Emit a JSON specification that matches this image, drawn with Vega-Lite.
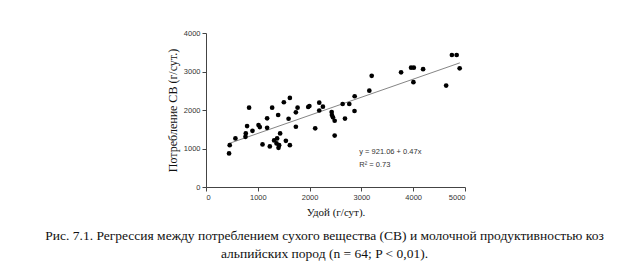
{
  "$schema": "https://vega.github.io/schema/vega-lite/v6.json",
  "width": 259,
  "height": 154,
  "autosize": {"type": "none"},
  "padding": {"left": 206, "top": 33, "right": 175, "bottom": 82},
  "background": "white",
  "title": {
    "text": ["Рис. 7.1. Регрессия между потреблением сухого вещества (СВ) и молочной продуктивностью коз", "альпийских пород (n = 64; P < 0,01)."],
    "orient": "bottom",
    "anchor": "middle",
    "font": "Liberation Serif",
    "fontSize": 13.5,
    "fontWeight": "normal",
    "color": "#111",
    "lineHeight": 18,
    "offset": 11,
    "dx": -11
  },
  "config": {
    "view": {"stroke": null},
    "axis": {
      "grid": false,
      "domainColor": "#444",
      "tickColor": "#444",
      "tickSize": 4,
      "labelFont": "Liberation Sans",
      "labelFontSize": 7.5,
      "labelColor": "#333",
      "format": "d",
      "titleFont": "Liberation Serif",
      "titleFontWeight": "normal",
      "titleColor": "#111"
    }
  },
  "encoding": {
    "x": {
      "field": "x", "type": "quantitative",
      "scale": {"domain": [0, 5000], "nice": false, "zero": false},
      "axis": {"values": [0, 1000, 2000, 3000, 4000, 5000], "format": "d", "title": "Удой (г/сут).", "titleFontSize": 11, "titlePadding": 6, "labelPadding": 2}
    },
    "y": {
      "field": "y", "type": "quantitative",
      "scale": {"domain": [0, 4000], "nice": false, "zero": false},
      "axis": {"values": [0, 1000, 2000, 3000, 4000], "format": "d", "title": "Потребление СВ (г/сут.)", "titleFontSize": 12, "titlePadding": 4, "labelPadding": 2}
    }
  },
  "layer": [
    {
      "data": {"values": [
        {"x": 450, "y": 1132.6},
        {"x": 4900, "y": 3224.1}
      ]},
      "mark": {"type": "line", "stroke": "#666", "strokeWidth": 0.8}
    },
    {
      "data": {"values": [
        {"x": 445, "y": 871}, {"x": 458, "y": 1087}, {"x": 568, "y": 1262}, {"x": 762, "y": 1304},
        {"x": 768, "y": 1392}, {"x": 793, "y": 1583}, {"x": 832, "y": 2060}, {"x": 897, "y": 1460},
        {"x": 1014, "y": 1609}, {"x": 1039, "y": 1557}, {"x": 1091, "y": 1106}, {"x": 1180, "y": 1784},
        {"x": 1180, "y": 1538}, {"x": 1232, "y": 1053}, {"x": 1277, "y": 2060}, {"x": 1315, "y": 1210},
        {"x": 1373, "y": 1262}, {"x": 1362, "y": 1132}, {"x": 1412, "y": 1087}, {"x": 1400, "y": 1017},
        {"x": 1393, "y": 1870}, {"x": 1431, "y": 1392}, {"x": 1503, "y": 2201}, {"x": 1542, "y": 1199},
        {"x": 1594, "y": 1773}, {"x": 1619, "y": 2313}, {"x": 1619, "y": 1087}, {"x": 1735, "y": 1940},
        {"x": 1735, "y": 1565}, {"x": 1768, "y": 2060}, {"x": 1973, "y": 2078}, {"x": 1996, "y": 2104},
        {"x": 2108, "y": 1523}, {"x": 2186, "y": 2190}, {"x": 2186, "y": 1987}, {"x": 2257, "y": 2086},
        {"x": 2426, "y": 1948}, {"x": 2431, "y": 1870}, {"x": 2451, "y": 1810}, {"x": 2484, "y": 1721},
        {"x": 2484, "y": 1335}, {"x": 2638, "y": 2156}, {"x": 2766, "y": 2156}, {"x": 2683, "y": 1778},
        {"x": 2867, "y": 1974}, {"x": 2870, "y": 2357}, {"x": 3153, "y": 2503}, {"x": 3199, "y": 2887},
        {"x": 3766, "y": 2978}, {"x": 3959, "y": 3100}, {"x": 4012, "y": 3100}, {"x": 4191, "y": 3061},
        {"x": 4004, "y": 2722}, {"x": 4636, "y": 2634}, {"x": 4747, "y": 3429}, {"x": 4839, "y": 3429},
        {"x": 4897, "y": 3082}
      ]},
      "mark": {"type": "circle", "size": 22, "color": "#000", "opacity": 1}
    },
    {
      "data": {"values": [
        {"x": 2959, "y": 897, "label": "y = 921.06 + 0.47x"},
        {"x": 2959, "y": 566, "label": "R² = 0.73"}
      ]},
      "mark": {"type": "text", "align": "left", "baseline": "middle", "font": "Liberation Sans", "fontSize": 7.5, "color": "#333"},
      "encoding": {"text": {"field": "label"}}
    }
  ]
}
